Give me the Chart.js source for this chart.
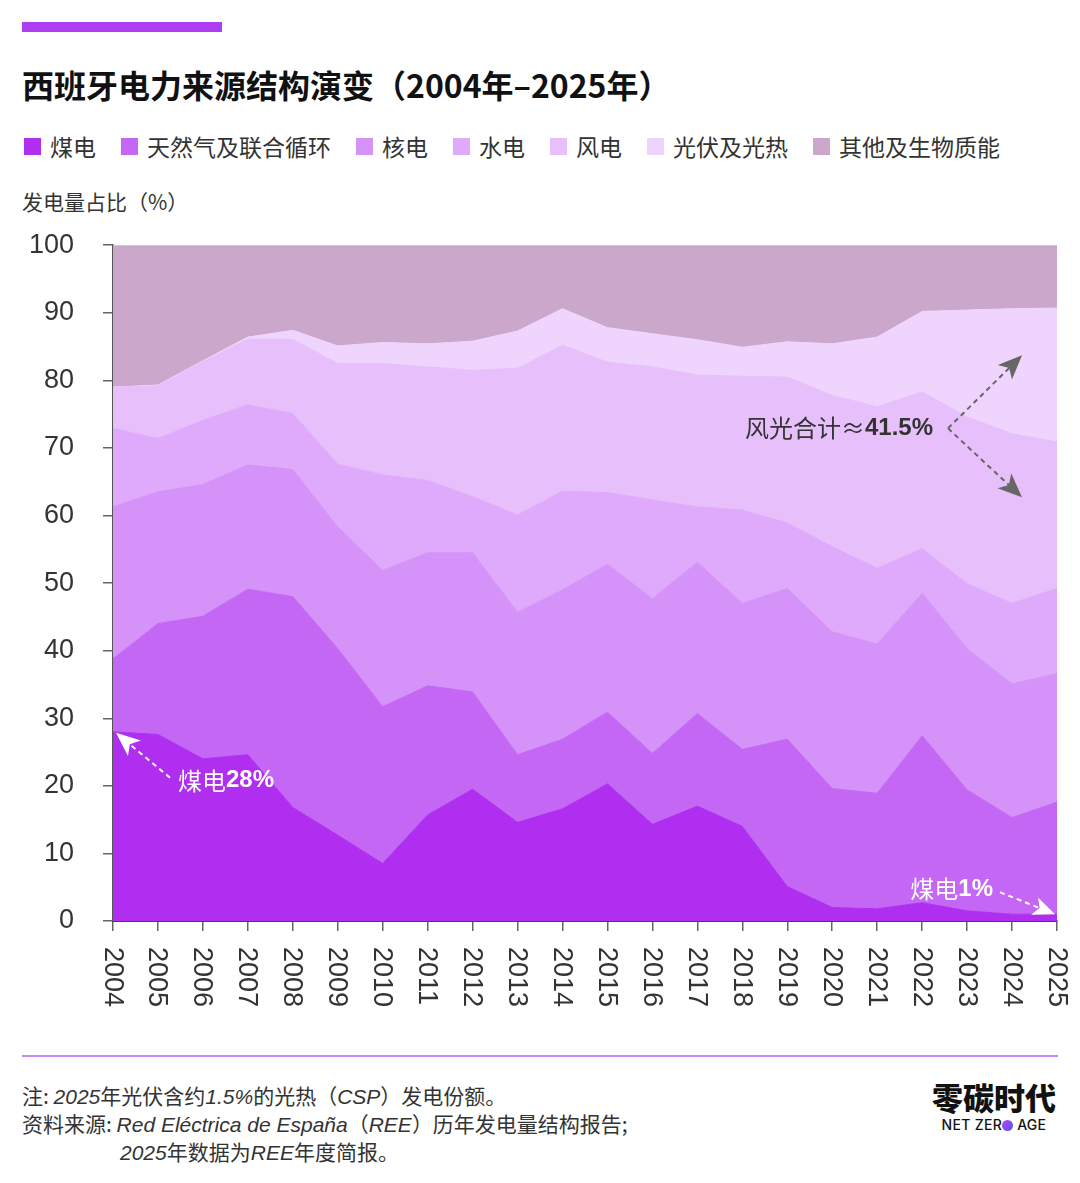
<!DOCTYPE html>
<html>
<head>
<meta charset="utf-8">
<script src="https://cdn.jsdelivr.net/npm/chart.js@4.4.1/dist/chart.umd.min.js"></script>
<style>
body{margin:0;background:#fff;width:1080px;height:1183px;position:relative;overflow:hidden;font-family:"Noto Sans CJK SC",sans-serif;color:#333}
.bar{position:absolute;left:22px;top:22px;width:200px;height:10px;background:#AE3CF0}
h1{position:absolute;left:22px;top:64px;margin:0;font-size:32px;line-height:40px;font-weight:700;color:#111}
.legend{position:absolute;left:24px;top:131px;display:flex;font-size:23px;line-height:30px;color:#333}
.legend span{display:flex;align-items:center;margin-right:25px}
.legend i{display:inline-block;width:17px;height:17px;margin-right:9px}
.ytitle{position:absolute;left:22px;top:187px;font-size:21px;line-height:28px;color:#333}
#wrap{position:absolute;left:0;top:200px;width:1080px;height:825px}
.rule{position:absolute;left:22px;top:1055px;width:1036px;height:2px;background:#C08AF0}
.foot{position:absolute;left:22px;top:1082px;font-size:21px;line-height:27px;color:#333}
.foot em{font-family:"Liberation Sans";font-style:italic}
.foot .ind{padding-left:98px}
.logo{position:absolute;left:928px;top:1078px;width:132px;text-align:center}
.logo .cn{font-size:31px;line-height:38px;font-weight:900;color:#111}
.logo .en{font-family:Inter,sans-serif;font-size:14px;line-height:18px;font-weight:500;color:#111;letter-spacing:0.3px}
.logo .en b{display:inline-block;width:11px;height:11px;border-radius:50%;background:linear-gradient(135deg,#c23cf0,#4a5cf5);vertical-align:-1px}
</style>
</head>
<body>
<div class="bar"></div>
<h1>西班牙电力来源结构演变（2004年–2025年）</h1>
<div class="legend" id="legend"></div>
<div class="ytitle">发电量占比（%）</div>
<div id="wrap"><canvas id="myChart" width="1080" height="825"></canvas></div>
<div class="rule"></div>
<div class="foot">
<div>注: <em>2025</em>年光伏含约<em>1.5%</em>的光热（<em>CSP</em>）发电份额。</div>
<div>资料来源: <em>Red Eléctrica de España</em>（<em>REE</em>）历年发电量结构报告;</div>
<div class="ind"><em>2025</em>年数据为<em>REE</em>年度简报。</div>
</div>
<div class="logo"><div class="cn">零碳时代</div><div class="en">NET ZER<b></b> AGE</div></div>

<script>
// years on the x axis
var years = ['2004','2005','2006','2007','2008','2009','2010','2011','2012','2013','2014',
             '2015','2016','2017','2018','2019','2020','2021','2022','2023','2024','2025'];

// generation share by source, %
var coal    = [28.0,27.6,24.0,24.6,16.8,12.7, 8.5,15.7,19.5,14.6,16.6,20.3,14.3,17.0,14.0, 5.1, 2.0, 1.8, 2.7, 1.5, 1.0, 1.0];
var gas     = [10.8,16.4,21.1,24.5,31.2,27.6,23.2,19.1,14.4,10.0,10.3,10.6,10.5,13.7,11.4,21.8,17.6,17.1,24.7,17.9,14.3,16.6];
var nuclear = [22.5,19.5,19.5,18.4,18.8,18.0,20.2,19.7,20.6,21.1,22.1,21.9,22.9,22.4,21.6,22.3,23.2,22.1,21.1,20.9,19.8,19.0];
var hydro   = [11.6, 7.9, 9.5, 8.9, 8.3, 9.3,14.1,10.7, 8.3,14.4,14.6,10.6,14.6, 8.2,13.8, 9.7,12.6,11.2, 6.6, 9.6,11.9,12.6];
var wind    = [ 6.1, 7.8, 8.7, 9.7,11.0,14.9,16.5,16.8,18.7,21.7,21.6,19.3,19.7,19.5,19.8,21.6,22.4,23.9,23.2,24.7,25.1,21.7];
var solar   = [ 0.0, 0.1, 0.1, 0.3, 1.3, 2.6, 3.1, 3.4, 4.3, 5.5, 5.4, 5.1, 4.9, 5.2, 4.3, 5.2, 7.6,10.3,11.9,15.8,18.5,19.8];
var other   = [21.0,20.7,17.1,13.6,12.6,14.9,14.4,14.6,14.2,12.7, 9.4,12.2,13.1,14.0,15.1,14.3,14.6,13.6, 9.8, 9.6, 9.4, 9.3];

var seriesNames  = ['煤电','天然气及联合循环','核电','水电','风电','光伏及光热','其他及生物质能'];
var seriesData   = [coal, gas, nuclear, hydro, wind, solar, other];
var seriesColors = ['#AF2EF0','#C467F5','#D592F8','#DFAAFB','#E7C0FB','#EFD4FD','#CBA8CB'];

// html legend
var legend = document.getElementById('legend');
seriesNames.forEach(function (name, i) {
    var s = document.createElement('span');
    s.innerHTML = '<i style="background:' + seriesColors[i] + '"></i>' + name;
    legend.appendChild(s);
});

var tickFont = '27px "Liberation Sans Narrow", "Liberation Sans", sans-serif';

function arrow(ctx, x0, y0, x1, y1, color, head) {
    var a = Math.atan2(y1 - y0, x1 - x0);
    var c = Math.cos(a), s = Math.sin(a);
    var bx = x1 - c * head, by = y1 - s * head;
    ctx.save();
    ctx.strokeStyle = color;
    ctx.fillStyle = color;
    ctx.lineWidth = 2;
    ctx.setLineDash([5, 4]);
    ctx.beginPath();
    ctx.moveTo(x0, y0);
    ctx.lineTo(x1 - c * head * 0.7, y1 - s * head * 0.7);
    ctx.stroke();
    ctx.setLineDash([]);
    ctx.beginPath();
    ctx.moveTo(x1, y1);
    ctx.lineTo(bx - s * head * 0.42, by + c * head * 0.42);
    ctx.lineTo(x1 - c * head * 0.75, y1 - s * head * 0.75);
    ctx.lineTo(bx + s * head * 0.42, by - c * head * 0.42);
    ctx.closePath();
    ctx.fill();
    ctx.restore();
}

// two-part label: normal text then bold number
function label(ctx, txt, num, x, y, color, alignRight) {
    ctx.save();
    ctx.fillStyle = color;
    ctx.textBaseline = 'middle';
    ctx.font = '24px "Noto Sans CJK SC"';
    var w1 = ctx.measureText(txt).width;
    ctx.font = 'bold 24px "Liberation Sans", "Noto Sans CJK SC"';
    var w2 = ctx.measureText(num).width;
    var left = alignRight ? x - w1 - w2 : x;
    ctx.font = '24px "Noto Sans CJK SC"';
    ctx.fillText(txt, left, y);
    ctx.font = 'bold 24px "Liberation Sans", "Noto Sans CJK SC"';
    ctx.fillText(num, left + w1, y);
    ctx.restore();
}

var notesPlugin = {
    id: 'notes',
    afterDraw: function (chart) {
        var ctx = chart.ctx, x = chart.scales.x, y = chart.scales.y;
        var last = years.length - 1;

        // rotated year labels
        ctx.save();
        ctx.font = tickFont;
        ctx.fillStyle = '#333';
        ctx.textAlign = 'left';
        ctx.textBaseline = 'middle';
        years.forEach(function (yr, i) {
            ctx.save();
            ctx.translate(x.getPixelForValue(i), x.top + 26);
            ctx.rotate(Math.PI / 2);
            ctx.fillText(yr, 0, 1);
            ctx.restore();
        });
        ctx.restore();

        // coal 28%
        var tx = x.getPixelForValue(0) + 3, ty = y.getPixelForValue(coal[0]) + 1;
        arrow(ctx, tx + 54, ty + 45, tx, ty, '#fff', 24);
        label(ctx, '煤电', '28%', tx + 62, ty + 48, '#fff', false);

        // coal 1%
        var ex = x.getPixelForValue(last) - 2, ey = y.getPixelForValue(coal[last]);
        arrow(ctx, ex - 55, ey - 22, ex, ey, '#fff', 22);
        label(ctx, '煤电', '1%', ex - 62, ey - 25, '#fff', true);

        // wind + solar
        var ox = x.getPixelForValue(last) - 109, oy = y.getPixelForValue(72.9);
        arrow(ctx, ox, oy, ox + 74, y.getPixelForValue(83.7), '#666', 24);
        arrow(ctx, ox, oy, ox + 74, y.getPixelForValue(62.7), '#666', 24);
        label(ctx, '风光合计≈', '41.5%', ox - 15, oy, '#333', true);
    }
};

var chartData = {
    labels: years,
    datasets: seriesData.map(function (d, i) {
        return {
            label: seriesNames[i],
            data: d,
            backgroundColor: seriesColors[i],
            borderColor: seriesColors[i],
            borderWidth: 1,
            fill: i === 0 ? 'origin' : '-1',
            pointRadius: 0,
            tension: 0
        };
    })
};

var chartOptions = {
    responsive: false,
    animation: false,
    devicePixelRatio: 1,
    layout: { padding: { top: 20, right: 23, left: 0, bottom: 0 } },
    plugins: { legend: { display: false }, tooltip: { enabled: false } },
    scales: {
        x: {
            ticks: { display: false },
            grid: { drawOnChartArea: false, drawTicks: true, tickLength: 10, color: '#666', lineWidth: 1.5 },
            border: { display: true, color: '#4b3b56', width: 2 },
            afterFit: function (scale) { scale.height = 104; }
        },
        y: {
            stacked: true,
            min: 0,
            max: 100,
            ticks: { stepSize: 10, padding: 29, color: '#333', font: { family: '"Liberation Sans Narrow", "Liberation Sans"', size: 27 } },
            grid: { drawOnChartArea: false, drawTicks: true, tickLength: 10, color: '#666', lineWidth: 1.5 },
            border: { display: true, color: '#555', width: 1.5 },
            afterFit: function (scale) { scale.width = 113; }
        }
    }
};

var element = document.getElementById('myChart').getContext('2d');
var chart = new Chart(element, { type: 'line', data: chartData, options: chartOptions, plugins: [notesPlugin] });
</script>
</body>
</html>
